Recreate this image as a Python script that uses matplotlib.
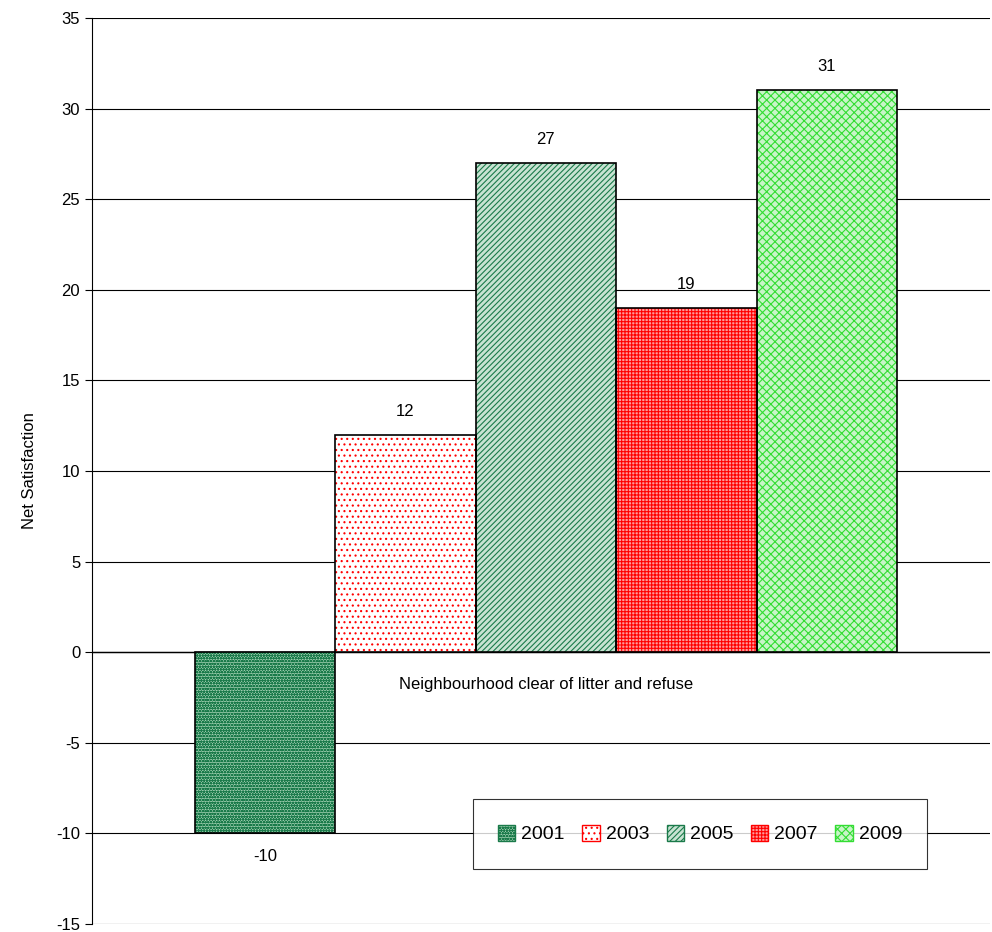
import matplotlib
matplotlib.use("Agg")
import matplotlib.pyplot as plt
from matplotlib.patches import Patch

years = ["2001", "2003", "2005", "2007", "2009"]
values = [-10, 12, 27, 19, 31]
category = "Neighbourhood clear of litter and refuse"
hatches = ["oooooo", "...", "//////", "+++++", "xxxx"]
hcolors = ["#1a7a4a", "#ff0000", "#1a7a4a", "#ff0000", "#33dd33"]
fills = ["#9fcfb0", "white", "#c8e3d2", "#ff9a9a", "#c8f5c8"]

plt.rcParams["font.family"] = ["Liberation Sans", "DejaVu Sans"]
plt.rcParams["axes.unicode_minus"] = False
plt.rcParams["hatch.linewidth"] = 0.8
fig = plt.figure(figsize=(9.92, 9.32), dpi=100)
ax = fig.add_axes([92/992, 8/932, 898/992, 906/932])

for i, (y, v) in enumerate(zip(years, values)):
    ax.bar(i, v, width=1.0, color=fills[i], edgecolor=hcolors[i], hatch=hatches[i], linewidth=0, zorder=2)
    ax.bar(i, v, width=1.0, fill=False, edgecolor="black", linewidth=1.2, zorder=3)
    off = 1.3 if v >= 0 else -1.3
    ax.text(i, v + off, str(v), ha="center", va="center", fontsize=12)

ax.set_xlim(-1.23, 5.16)
ax.set_ylim(-15, 35)
ax.set_yticks(range(-15, 36, 5))
ax.tick_params(axis="y", labelsize=12, length=5)
ax.set_xticks([])
ax.yaxis.grid(True, color="black", linewidth=0.8, zorder=0)
ax.axhline(0, color="black", linewidth=1, zorder=1)
for s in ["top", "right", "bottom"]:
    ax.spines[s].set_visible(False)
ax.set_ylabel("Net Satisfaction", fontsize=12, labelpad=14)
ax.text(2.0, -1.8, category, ha="center", va="center", fontsize=12)

handles = [Patch(facecolor=fills[i], edgecolor=hcolors[i], hatch=hatches[i]) for i in range(5)]
leg = ax.legend(handles, years, loc="center", bbox_to_anchor=((700-92)/898, (932-834-8)/906),
                ncol=5, fontsize=14, frameon=True, fancybox=False, edgecolor="black",
                handlelength=0.9, handleheight=0.9, handletextpad=0.3, columnspacing=0.9,
                borderpad=1.3)
leg.get_frame().set_linewidth(0.8)
fig.savefig("out.png", dpi=100)
